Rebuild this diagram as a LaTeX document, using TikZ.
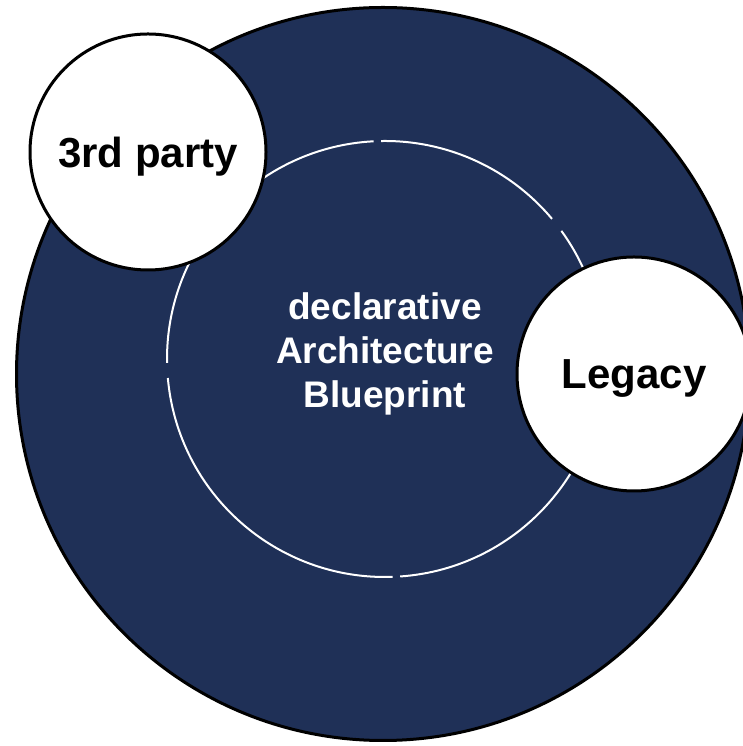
\documentclass[tikz,border=0pt]{standalone}
\usepackage{fontspec}
\setmainfont{Liberation Sans}
\usepackage{tikz}
\usetikzlibrary{positioning}
\definecolor{navy}{HTML}{1F3057}

\begin{document}
\begin{tikzpicture}[x=1pt,y=1pt,line width=3pt,
                    every node/.style={font=\bfseries}]
  \tikzstyle{disc}=[draw=black, circle, inner sep=0pt, text depth=0pt]
  \tikzstyle{ring}=[draw=white, line width=2pt]
  \useasboundingbox (0,0) rectangle (743,746);

  % outer area and the inner blueprint ring
  \node[disc, fill=navy, minimum size=733pt] (outer) at (383,372) {};
  \coordinate (mid) at (385,387);
  \foreach \a/\b in {93/181, 185/272, 274/396, 40/91}
    \draw[ring] (mid) ++(\a:218) arc[start angle=\a, end angle=\b, radius=218];

  \node[disc, fill=white, minimum size=236pt,
        font=\bfseries\fontsize{42}{50}\selectfont] (third) at (148,594) {3rd party};
  \node[disc, fill=white, minimum size=234pt,
        font=\bfseries\fontsize{42}{50}\selectfont] (legacy) at (634,372) {Legacy};

  \node[text=white, align=center,
        font=\bfseries\fontsize{37}{44}\selectfont] (blueprint) at (385,392)
        {declarative\\Architecture\\Blueprint};
\end{tikzpicture}
\end{document}
